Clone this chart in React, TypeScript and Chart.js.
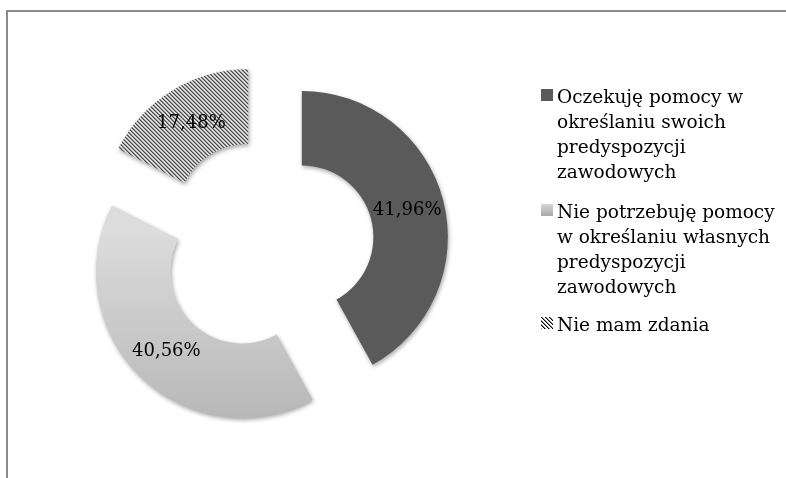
import React, { useEffect, useRef } from "react";
import { Chart, registerables } from "chart.js";

Chart.register(...registerables);

const categories: string[][] = [
  ["Oczekuję pomocy w", "określaniu swoich", "predyspozycji", "zawodowych"],
  ["Nie potrzebuję pomocy", "w określaniu własnych", "predyspozycji", "zawodowych"],
  ["Nie mam zdania"],
];
const values: number[] = [41.96, 40.56, 17.48];
const explodeOffsets: number[] = [36, 36, 36];

const SERIF = "'DejaVu Serif', 'Liberation Serif', serif";

function makeHatchTile(size: number): HTMLCanvasElement {
  const c = document.createElement("canvas");
  c.width = size;
  c.height = size;
  const g = c.getContext("2d")!;
  g.fillStyle = "#ffffff";
  g.fillRect(0, 0, size, size);
  for (let i = 0; i < size; i++) {
    g.fillStyle = "#000000";
    g.fillRect(i, i, 1, 1);
    g.fillStyle = "#8a8a8a";
    g.fillRect((i + 1) % size, i, 1, 1);
  }
  return c;
}

// Draw each arc of the doughnut displaced outward along its mid angle (exploded slices)
const explodePlugin = {
  id: "explode",
  beforeDatasetDraw(chart: any, args: any) {
    const ctx = chart.ctx;
    const meta = args.meta;
    ctx.save();
    ctx.shadowColor = "rgba(0,0,0,0.35)";
    ctx.shadowBlur = 4;
    ctx.shadowOffsetX = 1;
    ctx.shadowOffsetY = 2;
    meta.data.forEach((arc: any, i: number) => {
      const mid = (arc.startAngle + arc.endAngle) / 2;
      const d = explodeOffsets[i] || 0;
      ctx.save();
      ctx.translate(Math.cos(mid) * d, Math.sin(mid) * d);
      arc.draw(ctx);
      ctx.restore();
    });
    ctx.restore();
    return false;
  },
};

const labelPlugin = {
  id: "pctLabels",
  afterDatasetsDraw(chart: any) {
    const ctx = chart.ctx;
    const meta = chart.getDatasetMeta(0);
    ctx.save();
    ctx.font = `18px ${SERIF}`;
    ctx.fillStyle = "#000000";
    ctx.textAlign = "center";
    ctx.textBaseline = "middle";
    meta.data.forEach((arc: any, i: number) => {
      const mid = (arc.startAngle + arc.endAngle) / 2;
      const r = explodeOffsets[i] + (arc.innerRadius + arc.outerRadius) / 2;
      const x = arc.x + Math.cos(mid) * r;
      const y = arc.y + Math.sin(mid) * r;
      const txt = values[i].toFixed(2).replace(".", ",") + "%";
      ctx.fillText(txt, x, y + 1);
    });
    ctx.restore();
  },
};

export default function App() {
  const ref = useRef<HTMLCanvasElement | null>(null);
  const hatchRef = useRef<HTMLCanvasElement | null>(null);

  useEffect(() => {
    const canvas = ref.current!;
    const ctx = canvas.getContext("2d")!;
    const hatch = ctx.createPattern(makeHatchTile(4), "repeat")!;
    const grad = ctx.createLinearGradient(0, 205, 0, 421);
    grad.addColorStop(0, "#dcdcdc");
    grad.addColorStop(1, "#b2b2b2");

    const chart = new Chart(canvas, {
      type: "doughnut",
      data: {
        labels: categories.map((l) => l.join(" ")),
        datasets: [
          {
            data: values,
            backgroundColor: ["#5a5a5a", grad, hatch] as any,
            borderWidth: 0,
          },
        ],
      },
      options: {
        animation: false,
        responsive: false,
        maintainAspectRatio: false,
        radius: 146,
        cutout: "49%",
        layout: { padding: { left: 0, right: 252, top: 14, bottom: 0 } },
        plugins: {
          legend: { display: false },
          tooltip: { enabled: false },
        },
      } as any,
      plugins: [explodePlugin, labelPlugin],
    });

    const hc = hatchRef.current;
    if (hc) {
      const hctx = hc.getContext("2d")!;
      hctx.fillStyle = hctx.createPattern(makeHatchTile(4), "repeat")!;
      hctx.fillRect(0, 0, hc.width, hc.height);
    }

    return () => chart.destroy();
  }, []);

  const legendTops = [84, 199, 312];
  const swatches = [
    { background: "#5a5a5a" },
    { background: "linear-gradient(#d6d6d6, #a8a8a8)" },
    null,
  ];

  return (
    <div style={{ position: "fixed", left: 0, top: 0, width: 786, height: 478, background: "#ffffff", overflow: "hidden" }}>
      <div
        style={{
          position: "absolute",
          left: 6,
          top: 10,
          width: 800,
          height: 500,
          borderLeft: "2px solid #8a8a8a",
          borderTop: "2px solid #8a8a8a",
        }}
      />
      <canvas ref={ref} width={786} height={478} style={{ position: "absolute", left: 0, top: 0 }} />
      {categories.map((lines, i) => (
        <div
          key={i}
          style={{
            position: "absolute",
            left: 541,
            top: legendTops[i],
            fontFamily: SERIF,
            fontSize: 18.5,
            lineHeight: "25px",
            color: "#000",
            whiteSpace: "nowrap",
          }}
        >
          {swatches[i] ? (
            <div style={{ position: "absolute", left: 0, top: 5, width: 12, height: 12, ...swatches[i] }} />
          ) : (
            <canvas ref={hatchRef} width={12} height={12} style={{ position: "absolute", left: 0, top: 5 }} />
          )}
          <div style={{ marginLeft: 16 }}>
            {lines.map((t, j) => (
              <div key={j}>{t}</div>
            ))}
          </div>
        </div>
      ))}
    </div>
  );
}
